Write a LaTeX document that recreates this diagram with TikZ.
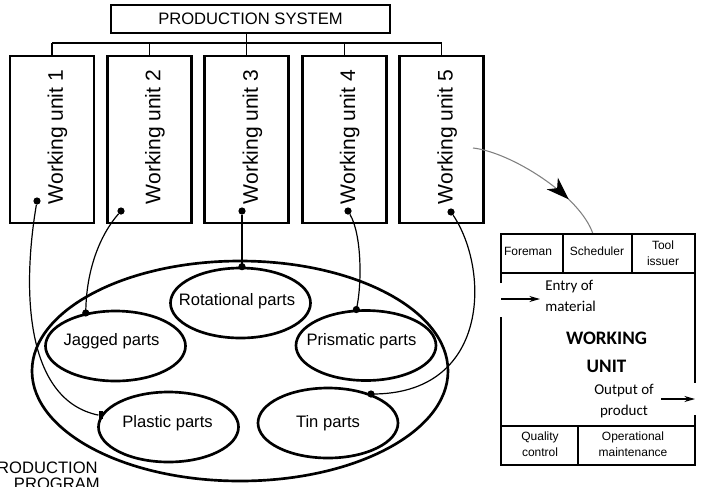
\documentclass[tikz,border=0pt]{standalone}
\usepackage{fontspec}
\setmainfont{Liberation Sans}
\newfontfamily\calibrifont{Carlito}
\usetikzlibrary{arrows.meta,decorations.markings,shapes.geometric}

\begin{document}
\begin{tikzpicture}
[x=0.75pt,y=-0.75pt,
  boxDecorate/.style={draw,line width=2.2pt,inner sep=0pt},
  unitDecorate/.style={boxDecorate,minimum width=63pt,minimum height=125.25pt},
  unitText/.style={rotate=90,inner sep=0pt,font=\fontsize{15.8}{19}\selectfont},
  partDecorate/.style={shape=ellipse,draw,line width=2pt,inner sep=0pt,
    minimum width=105pt,minimum height=52.5pt},
  partText/.style={inner sep=0pt,font=\fontsize{12.45}{15}\selectfont},
  busDecorate/.style={-,line width=1pt},
  lineDecorate/.style={-,line width=0.9pt},
  dotDecorate/.style={shape=circle,fill,inner sep=0pt,minimum size=5.4pt},
  wuBorder/.style={-,line width=1.6pt},
  cellDecorate/.style={-,line width=1pt},
  cellText/.style={inner sep=0pt,align=center,font=\fontsize{9}{12}\selectfont},
  wuText/.style={inner sep=0pt,font=\calibrifont\fontsize{11.25}{15.75}\selectfont},
  flowDecorate/.style={-{Stealth[length=8pt,width=4.5pt]},line width=0.9pt}]
\useasboundingbox (0,0) rectangle (702,486);
\clip (0,0) rectangle (702,486);

%% production system and its working units
\node (ps) at (250.5,19) [boxDecorate,minimum width=209.25pt,minimum height=21pt,
  font=\fontsize{12.45}{15}\selectfont] {PRODUCTION SYSTEM};
\coordinate (busy) at (0,43);
\foreach \i/\x in {1/52,2/149.4,3/246.8,4/344.2,5/441.6}
{
  \node (wu\i) at (\x,139.5) [unitDecorate] {};
  \node (wuText\i) at ([shift={(5.5,-2.5)}]wu\i.center) [unitText] {Working unit \i};
  \draw[busDecorate] (wu\i.north) -- (wu\i.north |- busy);
}
\draw[busDecorate] (wu1.north |- busy) -- (wu5.north |- busy);
\draw[busDecorate] (ps.south -| wu3.north) -- (wu3.north |- busy);

%% production program and its part families
\node (prog) at (240,371) [partDecorate,minimum width=312pt,minimum height=165pt] {};
\foreach \nodename/\x/\y/\tx/\ty/\txt in {
  rot/240.5/303/237/301/Rotational parts,
  jag/115.5/346/111.5/341/Jagged parts,
  pri/366/345.5/361.5/341/Prismatic parts,
  pla/168.5/427/167.5/423/Plastic parts,
  tin/328/423/328/423/Tin parts}
{
  \node (\nodename) at (\x,\y) [partDecorate] {};
  \node (\nodename Text) at (\tx,\ty) [partText] {\txt};
}
\node (progText1) at (98,473) [anchor=base east,partText] {PRODUCTION};
\node (progText2) at (100,489) [anchor=base east,partText] {PROGRAM};

%% links from units to part families
\node (d1) at (37,201) [dotDecorate] {};
\node (d2) at (121,211) [dotDecorate] {};
\node (d3) at (242,211) [dotDecorate] {};
\node (d4) at (348,211) [dotDecorate] {};
\node (d5) at (451,212) [dotDecorate] {};
\node (e2) at (jag.132) [dotDecorate] {};
\node (e3) at (d3 |- rot.north) [dotDecorate] {};
\node (e4) at (pri.105) [dotDecorate] {};
\node (e5) at (tin.34) [dotDecorate] {};
\node (e1) at (pla.170) [fill,inner sep=0pt,minimum width=3.6pt,minimum height=6pt] {};
\draw[lineDecorate] (d1) .. controls (22,290) and (25,400) .. (e1.west);
\draw[lineDecorate] (d2) .. controls (100,235) and (86,270) .. (e2.center);
\draw[lineDecorate] (d3) -- (e3.center);
\draw[lineDecorate] (d4) .. controls (362,235) and (362,285) .. (e4.center);
\draw[lineDecorate] (d5) .. controls (490,270) and (490,395) .. (e5.center);

%% working unit detail
\coordinate (wu5out) at (473,148);
\coordinate (wuTop) at (593,234);
\draw[gray,line width=0.8pt,postaction={decorate},
  decoration={markings,mark=at position 0.72 with
    {\arrow{Stealth[length=17pt,width=12pt,inset=5pt,color=black]}}}]
  (wu5out) .. controls (510,152) and (580,195) .. (wuTop);
\draw[wuBorder] (501,283) -- (501,234) -- (695,234) -- (695,383);
\draw[wuBorder] (695,415) -- (695,465) -- (501,465) -- (501,317);
\draw[cellDecorate] (501,273) -- (695,273);
\draw[cellDecorate] (563,234) -- (563,273);
\draw[cellDecorate] (632,234) -- (632,273);
\draw[cellDecorate] (501,426) -- (695,426);
\draw[cellDecorate] (578,426) -- (578,465);
\node (foreman) at (528,251) [cellText] {Foreman};
\node (scheduler) at (597,251) [cellText] {Scheduler};
\node (tool) at (663,253) [cellText] {Tool\\issuer};
\node (quality) at (540,444) [cellText] {Quality\\control};
\node (maint) at (633,444) [cellText] {Operational\\maintenance};
\node (entry) at (545,296) [anchor=west,align=left,wuText] {Entry of\\material};
\node (wuName) at (606.5,352) [align=center,wuText,
  font=\calibrifont\bfseries\fontsize{14.3}{21}\selectfont] {WORKING\\UNIT};
\node (output) at (624,401.5) [align=center,wuText] {Output of\\product};
\coordinate (inA) at (501,299);
\coordinate (inB) at (540,299);
\coordinate (outA) at (661,399);
\coordinate (outB) at (695,399);
\draw[flowDecorate] (inA) -- (inB);
\draw[flowDecorate] (outA) -- (outB);
\end{tikzpicture}
\end{document}
